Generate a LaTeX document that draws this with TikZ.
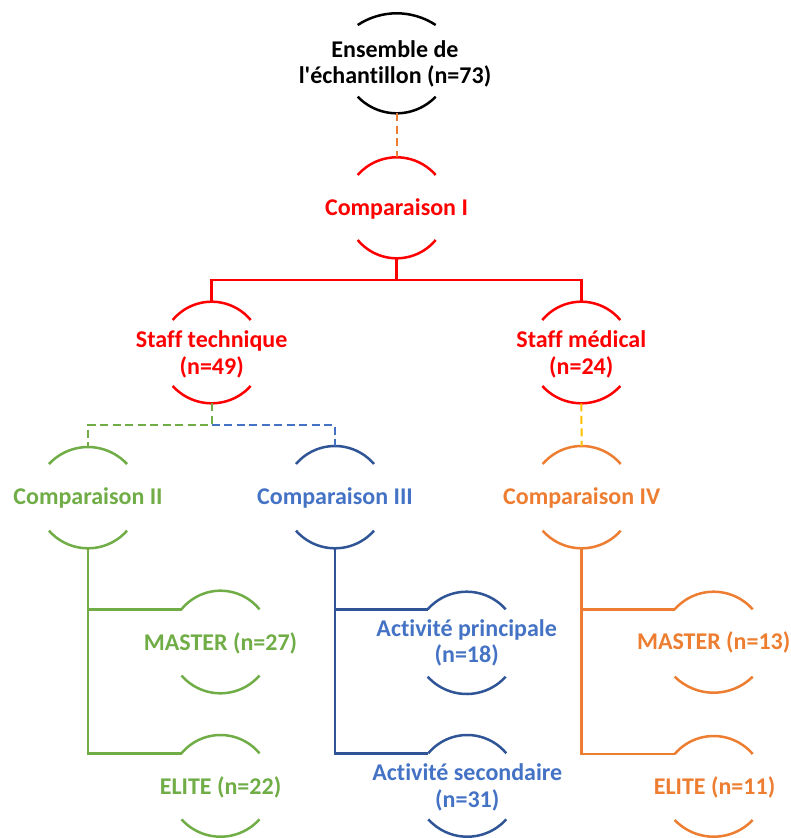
\documentclass[tikz,border=0pt]{standalone}
\usepackage{fontspec}
\newfontfamily\lblfont{Carlito}[Ligatures={NoCommon}]
\definecolor{cRed}{HTML}{FF0000}
\definecolor{cOrange}{HTML}{ED7D31}
\definecolor{cGreen}{HTML}{70AD47}
\definecolor{cBlue}{HTML}{4472C4}
\definecolor{cDBlue}{HTML}{2F5597}
\definecolor{cGold}{HTML}{FFC000}
\tikzset{
  arcline/.style={line width=2.5pt},
  link/.style={line width=2.5pt},
  dlink/.style={line width=2pt, dash pattern=on 8pt off 4.5pt},
  lbl/.style={anchor=base, inner sep=0pt, font=\lblfont\bfseries\fontsize{24}{26.5}\selectfont},
  lbltwo/.style={lbl, align=center}
}
\def\aw{39}
\newcommand{\halfarcs}[7]{%
  \pgfmathsetmacro{\sT}{#3-#4}%
  \pgfmathsetmacro{\rT}{(\aw*\aw+\sT*\sT)/(2*\sT)}%
  \pgfmathsetmacro{\aT}{asin(\aw/\rT)}%
  \pgfmathsetmacro{\sB}{#6-#5}%
  \pgfmathsetmacro{\rB}{(\aw*\aw+\sB*\sB)/(2*\sB)}%
  \pgfmathsetmacro{\aB}{asin(\aw/\rB)}%
  \draw[arcline,#7] (#2-\aw,-#3) arc[start angle=90+\aT, end angle=90-\aT, radius=\rT pt];
  \draw[arcline,#7] (#2-\aw,-#5) arc[start angle=270-\aB, end angle=270+\aB, radius=\rB pt];
  \coordinate (#1-t) at (#2,-#4);
  \coordinate (#1-b) at (#2,-#6);
  \coordinate (#1-tl) at (#2-\aw,-#3);
}
\begin{document}
\begin{tikzpicture}[x=1pt,y=1pt]
\useasboundingbox (0,0) rectangle (790,-838);
% shapes
\halfarcs{ens}{396.7}{25}{13.3}{96.7}{113.3}{black}
\halfarcs{c1}{396.7}{175}{157.3}{240}{258.3}{cRed}
\halfarcs{st}{211.7}{320}{301.7}{386}{403.3}{cRed}
\halfarcs{sm}{581.3}{320}{301.7}{386}{403.3}{cRed}
\halfarcs{c2}{88}{464}{447}{530.7}{548.3}{cGreen}
\halfarcs{c3}{335}{464}{446}{530.7}{548.3}{cDBlue}
\halfarcs{c4}{581.7}{464}{446}{530.7}{548.3}{cOrange}
\halfarcs{m27}{220.5}{609.3}{590.7}{675.5}{693.3}{cGreen}
\halfarcs{e22}{220.5}{753.3}{735}{819.3}{836.7}{cGreen}
\halfarcs{ap}{466.7}{609.3}{591.7}{676.7}{694}{cDBlue}
\halfarcs{as}{467.3}{753.3}{735}{819.3}{836.7}{cDBlue}
\halfarcs{m13}{713.7}{609.3}{591.7}{676.7}{692.7}{cOrange}
\halfarcs{e11}{713.7}{754}{736}{820}{836.7}{cOrange}
% labels (two-line labels: base = baseline of the last line)
\node[lbltwo, text=black] (ens) at (395,-83.5) {Ensemble de\\l'échantillon (n=73)};
\node[lbl, text=cRed] (c1) at (396.5,-215) {Comparaison I};
\node[lbltwo, text=cRed] (st) at (211.7,-374) {Staff technique\\(n=49)};
\node[lbltwo, text=cRed] (sm) at (581.3,-374) {Staff médical\\(n=24)};
\node[lbl, text=cGreen] (c2) at (88,-504) {Comparaison II};
\node[lbl, text=cBlue] (c3) at (335,-504) {Comparaison III};
\node[lbl, text=cOrange] (c4) at (581.7,-504) {Comparaison IV};
\node[lbl, text=cGreen] (m27) at (220.5,-650) {MASTER (n=27)};
\node[lbl, text=cGreen] (e22) at (220.5,-794) {ELITE (n=22)};
\node[lbltwo, text=cBlue] (ap) at (466.7,-662.5) {Activité principale\\(n=18)};
\node[lbltwo, text=cBlue] (as) at (467.3,-807) {Activité secondaire\\(n=31)};
\node[lbl, text=cOrange] (m13) at (713.7,-649) {MASTER (n=13)};
\node[lbl, text=cOrange] (e11) at (714.5,-794.3) {ELITE (n=11)};
% connectors
\coordinate (j1) at (396.7,-280);
\coordinate (j2) at (211.7,-425);
\draw[dlink, cOrange] (ens-b) -- (c1-t);
\draw[link, cRed] (c1-b) -- (j1) -| (st-t);
\draw[link, cRed] (j1) -| (sm-t);
\draw[dlink, cGreen] (st-b) -- (j2) -| (c2-t);
\draw[dlink, cBlue] (j2) -| (c3-t);
\draw[dlink, cGold] (sm-b) -- (c4-t);
\draw[link, cGreen] (c2-b) |- (m27-tl);
\draw[link, cGreen] (c2-b) |- (e22-tl);
\draw[link, cDBlue] (c3-b) |- (ap-tl);
\draw[link, cDBlue] (c3-b) |- (as-tl);
\draw[link, cOrange] (c4-b) |- (m13-tl);
\draw[link, cOrange] (c4-b) |- (e11-tl);
\end{tikzpicture}
\end{document}
